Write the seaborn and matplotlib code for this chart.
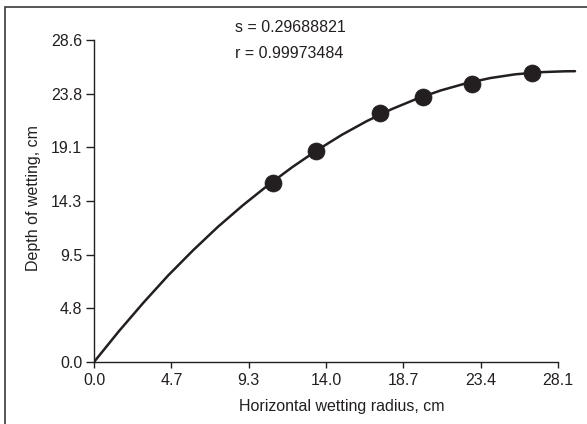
import numpy as np
import pandas as pd
import matplotlib
matplotlib.use("Agg")
import matplotlib.pyplot as plt
import seaborn as sns
from matplotlib.patches import Rectangle

# Measured points
point_x = [10.86, 13.43, 17.32, 19.94, 22.87, 26.51]
point_y = [15.93, 18.77, 22.09, 23.56, 24.66, 25.64]

# Fitted curve
curve_x = [0.0, 1.5, 3.0, 4.5, 6.0, 7.5, 9.0, 10.5, 12.0, 13.5, 15.0, 16.5,
           18.0, 19.5, 21.0, 22.5, 24.0, 25.5, 27.0, 28.5, 29.13]
curve_y = [0.0, 2.72, 5.28, 7.70, 9.92, 12.00, 13.90, 15.66, 17.30, 18.80, 20.17, 21.38,
           22.44, 23.35, 24.12, 24.74, 25.22, 25.55, 25.74, 25.82, 25.83]

x_ticks = [0.0, 4.7, 9.3, 14.0, 18.7, 23.4, 28.1]
x_labels = ["0.0", "4.7", "9.3", "14.0", "18.7", "23.4", "28.1"]
y_ticks = [0.0, 4.8, 9.5, 14.3, 19.1, 23.8, 28.6]
y_labels = ["0.0", "4.8", "9.5", "14.3", "19.1", "23.8", "28.6"]

stats_text = ["s = 0.29688821", "r = 0.99973484"]

sns.set_style("ticks")
plt.rcParams["font.family"] = ["Liberation Sans", "DejaVu Sans"]

ink = "#231f20"
fig = plt.figure(figsize=(5.87, 4.24), dpi=100)
W, H = 587, 424
x0px, x1px = 94, 558
y0px, y1px = 362, 40
xs = (x1px - x0px) / 28.1
ys = (y0px - y1px) / 28.6
xmax, ymax = 30.0, 29.2
ax = fig.add_axes([x0px / W, (H - y0px) / H, xmax * xs / W, ymax * ys / H])

curve_df = pd.DataFrame({"x": curve_x, "y": curve_y})
pts_df = pd.DataFrame({"x": point_x, "y": point_y})
sns.lineplot(data=curve_df, x="x", y="y", ax=ax, color=ink, linewidth=1.8, sort=False)
sns.scatterplot(data=pts_df, x="x", y="y", ax=ax, color=ink, s=150, edgecolor=ink,
                linewidth=0.5, zorder=3)

ax.set_xlim(0, xmax)
ax.set_ylim(0, ymax)
ax.set_xticks(np.linspace(0, 28.1, 7))
ax.set_xticklabels(x_labels)
ax.set_yticks(np.linspace(0, 28.6, 7))
ax.set_yticklabels(y_labels)
for s in ["top", "right"]:
    ax.spines[s].set_visible(False)
ax.spines["bottom"].set_bounds(0, 28.1)
ax.spines["left"].set_bounds(0, 28.6)
for s in ["bottom", "left"]:
    ax.spines[s].set_color(ink)
    ax.spines[s].set_linewidth(1.0)
ax.tick_params(axis="both", direction="out", width=1.0, color=ink,
               labelsize=11.5, labelcolor=ink)
ax.tick_params(axis="x", length=4, pad=4)
ax.tick_params(axis="y", length=5.5, pad=3)
ax.set_xlabel("Horizontal wetting radius, cm", fontsize=11.5, color=ink, labelpad=8)
ax.set_ylabel("Depth of wetting, cm", fontsize=11.5, color=ink, labelpad=7)
ax.patch.set_alpha(0)

fig.text(235 / W, 1 - 28 / H, stats_text[0], fontsize=11.5, color=ink, va="center", ha="left")
fig.text(235 / W, 1 - 53 / H, stats_text[1], fontsize=11.5, color=ink, va="center", ha="left")

# outer frame (left and top edges visible)
fig.patches.append(Rectangle((5 / W, -0.1), 1.2, (1 - 7 / H) + 0.1, transform=fig.transFigure,
                             fill=False, edgecolor="#3a3a3a", linewidth=1.2, zorder=0))

fig.savefig("out.png", dpi=100)
